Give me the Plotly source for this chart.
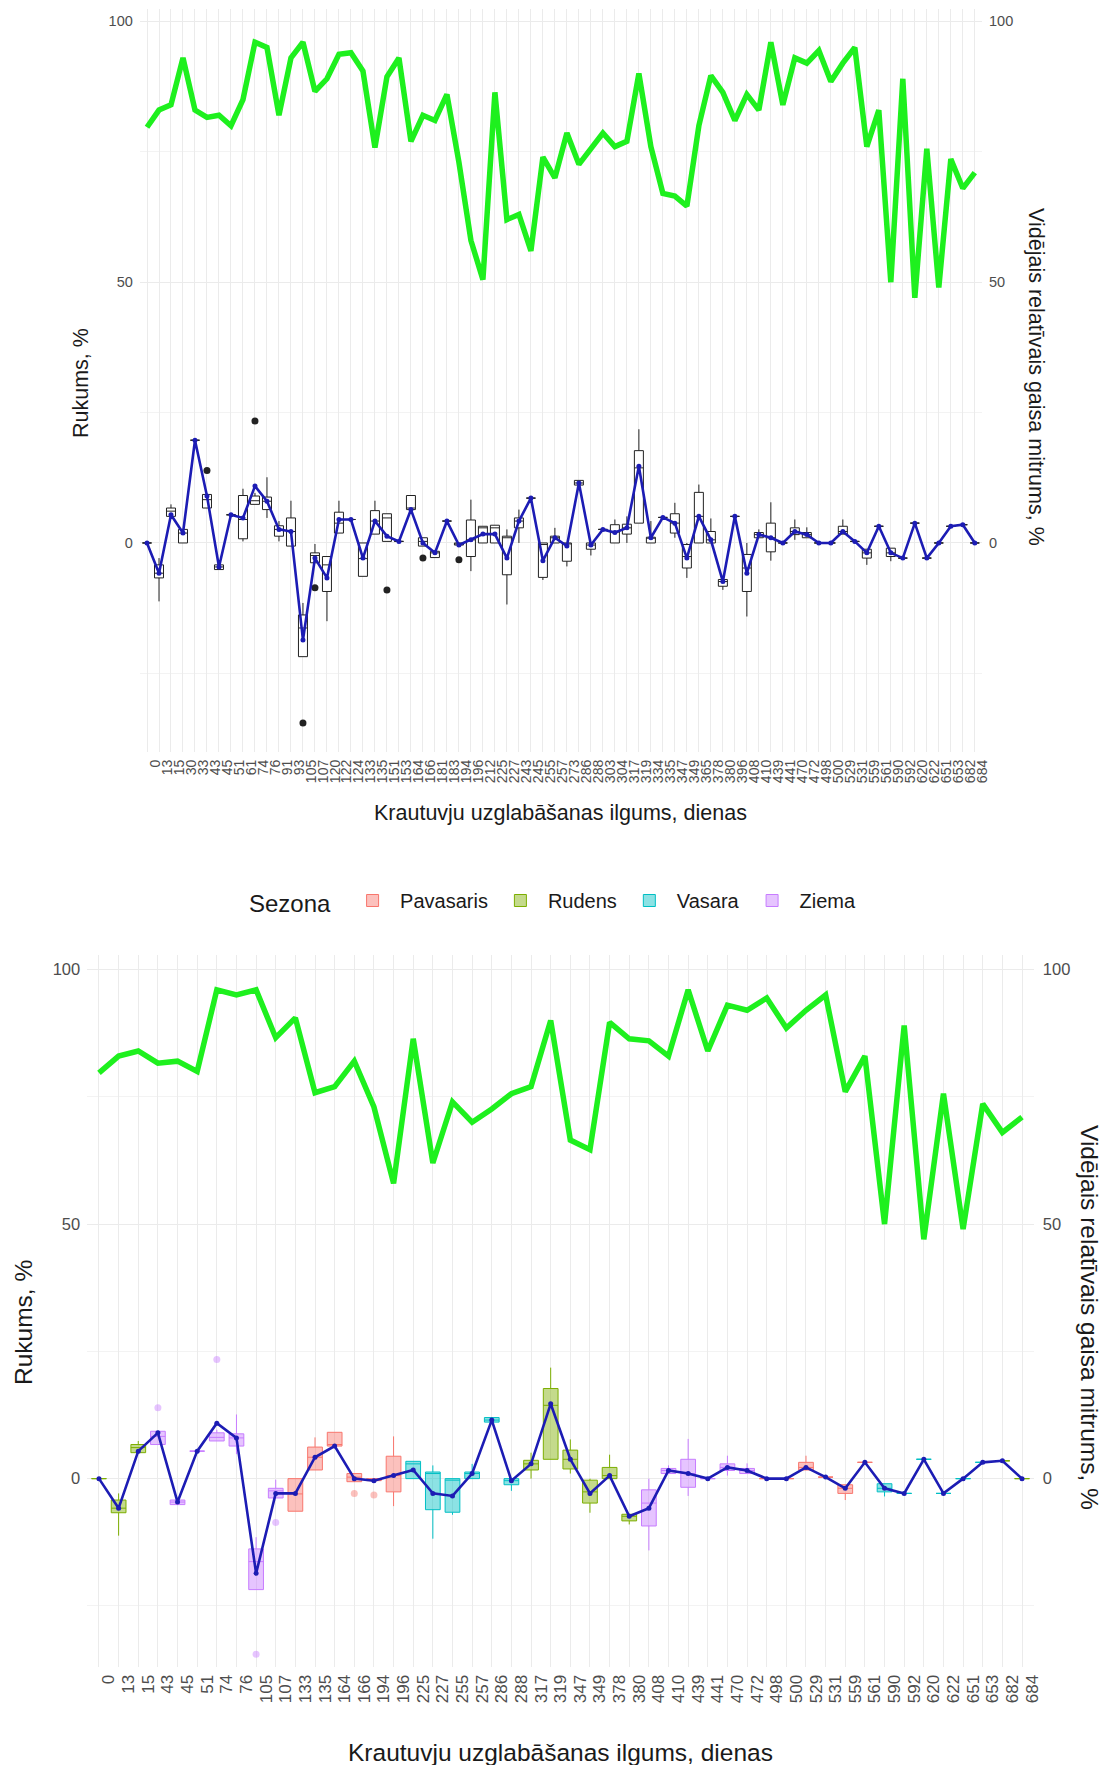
import plotly.graph_objects as go

# Storage days measured (top panel: every day; bottom panel: subset by season)
days = ["0", "13", "15", "30", "33", "43", "45", "51", "61", "74",
        "76", "91", "93", "105", "107", "120", "122", "124", "133", "135",
        "151", "153", "164", "166", "181", "183", "194", "196", "212", "225",
        "227", "243", "245", "255", "257", "273", "286", "288", "303", "304",
        "317", "319", "334", "335", "347", "349", "365", "378", "380", "396",
        "408", "410", "439", "441", "470", "472", "498", "500", "529", "531",
        "559", "561", "590", "592", "620", "622", "651", "653", "682", "684"]

# Mean relative air humidity, %
humidity = [79.7, 83, 84, 93, 83, 81.6, 82, 80, 85, 96,
            95, 82, 93, 96, 86.6, 89, 93.7, 94, 90.5, 75.8,
            89.4, 93, 77, 82, 81, 86, 73, 58, 50.5, 86.4,
            62, 63, 56, 74, 70, 78.6, 72.6, 75.6, 78.6, 76,
            77, 90, 76, 67, 66.5, 64.6, 80, 89.6, 86.4, 81,
            86, 83, 96, 84, 93, 92, 94.4, 88.5, 92, 95,
            76, 83, 50, 89, 47, 75.6, 49, 73.6, 68, 71]

# Mean shrinkage, %
shrink_mean = [0, -5.8, 5.4, 1.9, 19.7, 9.0, -4.6, 5.4, 4.8, 10.9,
               8.0, 2.6, 2.2, -18.6, -2.9, -6.7, 4.5, 4.5, -2.9, 4.2,
               1.3, 0.3, 6.4, 0, -1.9, 4.2, -0.4, 0.6, 1.7, 1.7,
               -2.9, 4.2, 8.6, -3.4, 1.0, -0.6, 11.5, -0.4, 2.6, 2.0,
               2.9, 14.7, 1.0, 4.9, 3.8, -2.9, 5.1, 0.6, -7.4, 5.1,
               -5.8, 1.6, 1.0, 0, 2.2, 1.6, 0, 0, 2.2, 0.3,
               -1.9, 3.2, -1.9, -2.9, 3.8, -2.9, 0, 3.2, 3.5, 0]

# Shrinkage box statistics per day
shrink_q1 = [0, -6.7, 5.1, 0, 19.7, 6.7, -5.1, 5.4, 0.8, 7.4,
             6.4, 1.3, -0.6, -21.8, -3.8, -9.3, 1.9, 4.5, -6.4, 1.7,
             0.3, 0.3, 6.4, -0.6, -2.8, 4.2, -0.4, -2.6, 0, 0,
             -6.1, 2.9, 8.6, -6.6, 0, -3.5, 11.1, -1.2, 2.6, 0,
             1.7, 3.8, 0, 4.9, 1.9, -4.8, 0, 0, -8.3, 5.1,
             -9.3, 1.0, -1.7, 0, 1.6, 1.0, 0, 0, 1.7, 0.3,
             -2.9, 3.2, -2.6, -2.9, 3.8, -2.9, 0, 3.2, 3.5, 0]
shrink_median = [0, -5.8, 6.1, 1.9, 19.7, 8.3, -4.6, 5.4, 4.5, 8.1,
                 8.0, 2.6, 2.2, -16.3, -2.4, -4.2, 3.8, 4.5, -3.0, 4.2,
                 4.8, 0.3, 6.7, 0.3, -1.9, 4.2, 0, 0.6, 2.9, 2.9,
                 1.0, 4.2, 8.6, -0.3, 1.0, 0, 11.5, -0.4, 2.6, 2.1,
                 2.9, 14.4, 1.0, 4.9, 3.8, -2.6, 5.1, 0.6, -7.4, 5.1,
                 -4.8, 1.6, 1.0, 0, 2.2, 1.6, 0, 0, 2.2, 0.3,
                 -1.9, 3.2, -1.9, -2.9, 3.8, -2.9, 0, 3.2, 3.5, 0]
shrink_q3 = [0, -4.2, 6.7, 2.6, 19.7, 9.3, -4.2, 5.4, 9.1, 9.0,
             8.8, 3.3, 4.8, -13.8, -1.9, -2.6, 5.9, 4.5, 0, 6.2,
             5.6, 0.3, 9.1, 1.0, -1.6, 4.2, 0, 4.4, 3.2, 3.4,
             1.3, 4.8, 8.6, 0, 1.3, 0, 12.0, 0, 2.6, 3.5,
             3.6, 17.7, 1.1, 4.9, 5.6, -0.3, 9.7, 2.2, -7.0, 5.1,
             -2.2, 2.0, 3.8, 0, 2.9, 2.0, 0, 0, 3.2, 0.3,
             -1.2, 3.2, -1.0, -2.9, 3.8, -2.9, 0, 3.2, 3.5, 0]
shrink_low = [0, -11.2, 5.1, 0, 19.7, 6.7, -5.1, 5.4, 0.3, 7.4,
              4.8, 0.3, -0.6, -21.8, -3.8, -15.0, 1.9, 4.5, -6.4, 1.7,
              0.3, 0.3, 6.4, -0.6, -2.8, 4.2, -0.4, -5.4, 0, 0,
              -11.8, 0, 8.6, -7.1, 0, -4.5, 11.1, -2.4, 2.6, 0,
              0, 3.8, 0, 4.9, 1.0, -6.7, 0, 0, -9.0, 5.1,
              -14.1, 1.0, -3.4, 0, 0.6, 1.0, 0, 0, 1.7, 0.3,
              -4.2, 3.2, -3.5, -2.9, 3.8, -2.9, 0, 3.2, 3.5, 0]
shrink_high = [0, -2.9, 7.4, 2.6, 19.7, 9.3, -4.2, 5.4, 10.4, 9.6,
               12.6, 4.2, 8.1, -11.5, -0.2, -2.6, 8.1, 4.5, 0, 8.1,
               5.6, 0.3, 9.1, 1.0, -1.6, 4.2, 0, 8.3, 3.2, 3.4,
               2.6, 6.4, 8.6, 0, 2.9, 0, 12.0, 0, 2.6, 4.5,
               5.1, 21.8, 4.2, 4.9, 7.7, 0, 11.2, 4.7, -7.0, 5.1,
               0, 2.6, 7.8, 0, 4.5, 3.0, 0, 0, 4.5, 0.3,
               -1.2, 3.2, -1.0, -2.9, 3.8, -2.9, 0, 3.2, 3.5, 0]

# Outlying observations
outlier_days = ["43", "74", "105", "107", "151", "166", "194"]
outlier_values = [13.9, 23.4, -34.5, -8.6, -9.0, -2.9, -3.2]

# Bottom panel: days and the season of each
season_days = ["0", "13", "15", "43", "45", "51", "74", "76", "105", "107",
               "133", "135", "164", "166", "194", "196", "225", "227", "255", "257",
               "286", "288", "317", "319", "347", "349", "378", "380", "408", "410",
               "439", "441", "470", "472", "498", "500", "529", "531", "559", "561",
               "590", "592", "620", "622", "651", "653", "682", "684"]
season_of_day = ["Rudens", "Rudens", "Rudens", "Ziema", "Ziema", "Ziema", "Ziema", "Ziema", "Ziema", "Ziema",
                 "Pavasaris", "Pavasaris", "Pavasaris", "Pavasaris", "Pavasaris", "Pavasaris",
                 "Vasara", "Vasara", "Vasara", "Vasara", "Vasara", "Vasara",
                 "Rudens", "Rudens", "Rudens", "Rudens", "Rudens", "Rudens",
                 "Ziema", "Ziema", "Ziema", "Ziema", "Ziema", "Ziema",
                 "Pavasaris", "Pavasaris", "Pavasaris", "Pavasaris", "Pavasaris", "Pavasaris",
                 "Vasara", "Vasara", "Vasara", "Vasara", "Vasara", "Vasara",
                 "Rudens", "Rudens"]

seasons = ["Pavasaris", "Rudens", "Vasara", "Ziema"]
season_colors = {"Pavasaris": "248,118,109", "Rudens": "124,174,0",
                 "Vasara": "0,191,196", "Ziema": "199,124,255"}

FONT = "Liberation Sans, Arial, sans-serif"
TICK_COLOR = "#4D4D4D"
TITLE_COLOR = "#1A1A1A"
GRID = "#EBEBEB"
GREEN = "#1EF01E"
BLUE = "#1C1CB4"
W, H = 1109, 1765

idx = {d: i for i, d in enumerate(days)}


def pick(arr, ds):
    return [arr[idx[d]] for d in ds]


fig = go.Figure()

# ---------- top panel: all days ----------
fig.add_trace(go.Box(
    x=days, q1=shrink_q1, median=shrink_median, q3=shrink_q3,
    lowerfence=shrink_low, upperfence=shrink_high,
    fillcolor="white", line=dict(color="#222222", width=1),
    whiskerwidth=0, width=0.75, boxpoints=False,
    xaxis="x", yaxis="y", showlegend=False, hoverinfo="skip"))
fig.add_trace(go.Scatter(
    x=outlier_days, y=outlier_values, mode="markers",
    marker=dict(color="#222222", size=7), xaxis="x", yaxis="y",
    showlegend=False, hoverinfo="skip"))
fig.add_trace(go.Scatter(
    x=days, y=shrink_mean, mode="lines+markers",
    line=dict(color=BLUE, width=2.6), marker=dict(color=BLUE, size=5),
    xaxis="x", yaxis="y", showlegend=False, hoverinfo="skip"))
fig.add_trace(go.Scatter(
    x=days, y=humidity, mode="lines",
    line=dict(color=GREEN, width=5.5),
    xaxis="x", yaxis="y", showlegend=False, hoverinfo="skip"))

# ---------- bottom panel: days coloured by season ----------
for s in seasons:
    ds = [d for d, ss in zip(season_days, season_of_day) if ss == s]
    c = season_colors[s]
    fig.add_trace(go.Box(
        x=ds, q1=pick(shrink_q1, ds), median=pick(shrink_median, ds),
        q3=pick(shrink_q3, ds), lowerfence=pick(shrink_low, ds),
        upperfence=pick(shrink_high, ds),
        fillcolor=f"rgba({c},0.45)", line=dict(color=f"rgb({c})", width=1),
        whiskerwidth=0, width=0.75, boxpoints=False, name=s,
        xaxis="x2", yaxis="y3", legendgroup=s, hoverinfo="skip"))
    od = [(d, v) for d, v in zip(outlier_days, outlier_values)
          if d in season_days and season_of_day[season_days.index(d)] == s]
    if od:
        fig.add_trace(go.Scatter(
            x=[o[0] for o in od], y=[o[1] for o in od], mode="markers",
            marker=dict(color=f"rgba({c},0.45)", size=7),
            xaxis="x2", yaxis="y3", showlegend=False, legendgroup=s,
            hoverinfo="skip"))

fig.add_trace(go.Scatter(
    x=season_days, y=pick(shrink_mean, season_days), mode="lines+markers",
    line=dict(color=BLUE, width=2.6), marker=dict(color=BLUE, size=5),
    xaxis="x2", yaxis="y3", showlegend=False, hoverinfo="skip"))
fig.add_trace(go.Scatter(
    x=season_days, y=pick(humidity, season_days), mode="lines",
    line=dict(color=GREEN, width=5.5),
    xaxis="x2", yaxis="y3", showlegend=False, hoverinfo="skip"))

# invisible traces so the right-hand axes render
fig.add_trace(go.Scatter(x=[days[0]], y=[0], xaxis="x", yaxis="y2", mode="markers",
                         marker=dict(opacity=0), showlegend=False, hoverinfo="skip"))
fig.add_trace(go.Scatter(x=[season_days[0]], y=[0], xaxis="x2", yaxis="y4", mode="markers",
                         marker=dict(opacity=0), showlegend=False, hoverinfo="skip"))

# ---------- geometry ----------
top_x = [139.8 / W, 982 / W]
top_y = [1 - 752 / H, 1 - 9 / H]
bot_x = [87.2 / W, 1033.8 / W]
bot_y = [1 - 1666.5 / H, 1 - 955 / H]
top_range = [-40.08, 102.38]
bot_range = [-36.9, 102.85]

yticks = [0, 50, 100]


def xaxis_cfg(domain, cats, size, anchor, shift):
    return dict(domain=domain, type="category",
                categoryorder="array", categoryarray=cats,
                tickmode="array", tickvals=cats, ticktext=cats,
                range=[-0.6, len(cats) - 1 + 0.6],
                tickangle=-90, showgrid=True, gridcolor=GRID, gridwidth=1,
                zeroline=False, showline=False, ticks="",
                tickfont=dict(family=FONT, size=size, color=TICK_COLOR),
                anchor=anchor, automargin=False, ticklabelstandoff=4,
                ticklabelshift=shift)


def yaxis_cfg(domain, rng, size, anchor):
    return dict(domain=domain, range=rng, tickvals=yticks,
                showgrid=True, gridcolor=GRID, gridwidth=1.1,
                zeroline=False, showline=False, ticks="",
                minor=dict(tickvals=[-25, 25, 75], showgrid=True,
                           gridcolor="#F3F3F3", gridwidth=0.6),
                tickfont=dict(family=FONT, size=size, color=TICK_COLOR),
                anchor=anchor, automargin=False, ticklabelstandoff=6)


fig.update_layout(
    width=W, height=H, margin=dict(l=0, r=0, t=0, b=0),
    paper_bgcolor="white", plot_bgcolor="white",
    boxmode="overlay",
    xaxis=xaxis_cfg(top_x, days, 14, "y", 8),
    yaxis=yaxis_cfg(top_y, top_range, 14.5, "x"),
    yaxis2=dict(domain=top_y, range=top_range, overlaying="y", side="right",
                anchor="x", tickvals=yticks, showgrid=False, zeroline=False,
                ticks="", ticklabelstandoff=6,
                tickfont=dict(family=FONT, size=14.5, color=TICK_COLOR)),
    xaxis2=xaxis_cfg(bot_x, season_days, 17, "y3", 10),
    yaxis3=yaxis_cfg(bot_y, bot_range, 16.5, "x2"),
    yaxis4=dict(domain=bot_y, range=bot_range, overlaying="y3", side="right",
                anchor="x2", tickvals=yticks, showgrid=False, zeroline=False,
                ticks="", ticklabelstandoff=8,
                tickfont=dict(family=FONT, size=16.5, color=TICK_COLOR)),
    legend=dict(orientation="h", x=0.5, xanchor="center", y=1 - 902 / H,
                yanchor="middle", font=dict(family=FONT, size=20, color=TITLE_COLOR),
                title=dict(text="Sezona ", side="left",
                           font=dict(family=FONT, size=24, color=TITLE_COLOR)),
                itemwidth=45, tracegroupgap=0),
)


def title(text, x, y, angle, size):
    fig.add_annotation(text=text, x=x / W, y=1 - y / H, xref="paper", yref="paper",
                       showarrow=False, textangle=angle,
                       font=dict(family=FONT, size=size, color=TITLE_COLOR),
                       xanchor="center", yanchor="middle")


title("Rukums, %", 81, 383, -90, 21.5)
title("Vidējais relatīvais gaisa mitrums, %", 1036, 377, 90, 21.5)
title("Krautuvju uzglabāšanas ilgums, dienas", 560, 813, 0, 21.5)
title("Rukums, %", 23, 1323, -90, 24.5)
title("Vidējais relatīvais gaisa mitrums, %", 1090, 1317, 90, 24.5)
title("Krautuvju uzglabāšanas ilgums, dienas", 560, 1752, 0, 24.5)

fig.write_html("out.html")
